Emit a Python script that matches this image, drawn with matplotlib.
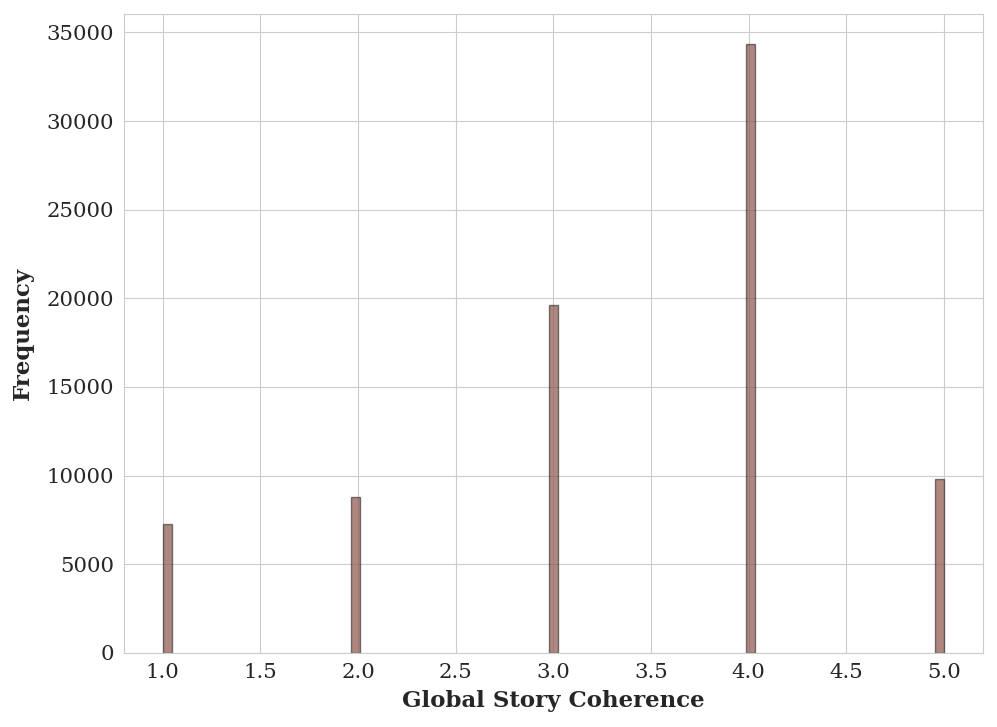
import numpy as np
import matplotlib
matplotlib.use("Agg")
import matplotlib.pyplot as plt
import seaborn as sns

# Scores and how often each occurs
scores = [1.0, 2.0, 3.0, 4.0, 5.0]
counts = [7270, 8800, 19600, 34330, 9810]

sns.set_style("whitegrid")
plt.rcParams['font.family'] = ['DejaVu Serif']

fig, ax = plt.subplots(figsize=(9.97, 7.27), dpi=100)
n, bins, patches = ax.hist(scores, weights=counts, bins=87, range=(1, 5),
                           facecolor=(0.549, 0.337, 0.294, 0.7),
                           edgecolor=(0.1, 0.1, 0.1, 0.55), linewidth=1)
# empty bins should not draw a line along the bottom
for h, p in zip(n, patches):
    if h == 0:
        p.set_visible(False)

ax.set_xlabel("Global Story Coherence", fontsize=16.5, fontweight='bold', labelpad=6)
ax.set_ylabel("Frequency", fontsize=16.5, fontweight='bold', labelpad=9)
ax.tick_params(labelsize=15.3)
for s in ax.spines.values():
    s.set_color('#cccccc')

plt.subplots_adjust(left=0.124, right=0.986, top=0.981, bottom=0.102)
plt.savefig("out.png", dpi=100)
